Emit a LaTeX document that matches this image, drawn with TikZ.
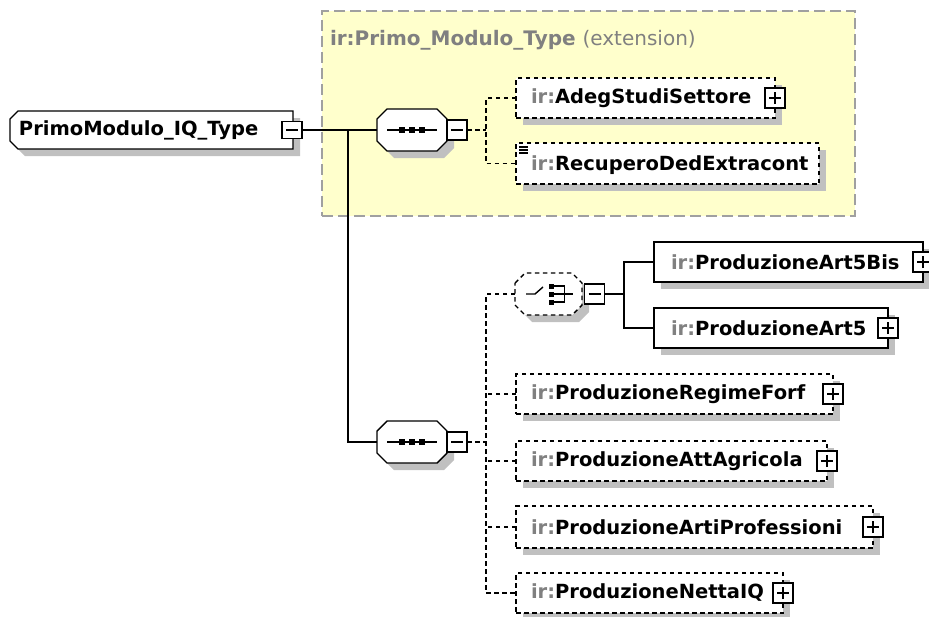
\documentclass[tikz,border=0pt]{standalone}
\usepackage{fontspec}
\setmainfont{DejaVu Sans}
\usetikzlibrary{shadows}
\definecolor{ylw}{RGB}{255,255,204}
\definecolor{shdc}{RGB}{192,192,192}
\definecolor{irgray}{RGB}{128,128,128}
\definecolor{framec}{RGB}{160,160,160}
\newcommand\octpath[4]{([xshift=#2,yshift=#3-#4]#1.north west) -- ([xshift=#2+#4,yshift=#3]#1.north west) -- ([xshift=#2-#4,yshift=#3]#1.north east) -- ([xshift=#2,yshift=#3-#4]#1.north east) -- ([xshift=#2,yshift=#3+#4]#1.south east) -- ([xshift=#2-#4,yshift=#3]#1.south east) -- ([xshift=#2+#4,yshift=#3]#1.south west) -- ([xshift=#2,yshift=#3+#4]#1.south west) -- cycle}
\newcommand\rootpath[4]{([xshift=#2,yshift=#3-#4]#1.north west) -- ([xshift=#2+#4,yshift=#3]#1.north west) -- ([xshift=#2,yshift=#3]#1.north east) -- ([xshift=#2,yshift=#3]#1.south east) -- ([xshift=#2+#4,yshift=#3]#1.south west) -- ([xshift=#2,yshift=#3+#4]#1.south west) -- cycle}
\begin{document}
\begin{tikzpicture}[x=1pt,y=-1pt,
  every node/.style={inner sep=0pt, outer sep=0pt},
  shd/.style={drop shadow={shadow xshift=7pt,shadow yshift=-7pt,fill=shdc,opacity=1}},
  elsolid/.style={draw=black, line width=1.4pt, fill=white, rectangle, minimum height=40pt, shd, anchor=west},
  eldash/.style={elsolid, dash pattern=on 4.5pt off 3.5pt},
  lbl/.style={anchor=west, font=\fontsize{19.5}{23}\selectfont\bfseries},
  btn/.style={draw=black, line width=1.4pt, fill=white, rectangle, minimum width=20pt, minimum height=20pt},
  minusbtn/.style={btn, path picture={\draw[line width=1.4pt] ([xshift=-6pt]path picture bounding box.center) -- ([xshift=6pt]path picture bounding box.center);}},
  plusbtn/.style={btn, path picture={\draw[line width=1.4pt] ([xshift=-6pt]path picture bounding box.center) -- ([xshift=6pt]path picture bounding box.center) ([yshift=-6pt]path picture bounding box.center) -- ([yshift=6pt]path picture bounding box.center);}},
  place/.style={rectangle},
  shapeline/.style={draw=black, line width=1.4pt, fill=white},
  conn/.style={draw=black, line width=1.4pt},
  dconn/.style={conn, dash pattern=on 4.5pt off 3.5pt},
  extframe/.style={draw=framec, fill=ylw, line width=1.6pt, dash pattern=on 11pt off 5pt, rectangle, anchor=north west}
]
\useasboundingbox (0,0) rectangle (929,616);

% extension frame
\node[extframe, minimum width=533pt, minimum height=205pt] (ext) at (322,11) {};
\node[anchor=west, text=irgray, font=\fontsize{20}{23}\selectfont] (title) at (330,40) {\bfseries ir:Primo\_Modulo\_Type \mdseries(extension)};

% root
\node[place, minimum width=283pt, minimum height=38pt, anchor=west] (root) at (10,130) {};
\fill[shdc] \rootpath{root}{7pt}{-7pt}{8pt};
\draw[shapeline] \rootpath{root}{0pt}{0pt}{8pt};
\node[lbl] (roott) at (19,130) {PrimoModulo\_IQ\_Type};
\node[minusbtn, minimum height=17pt] (rootb) at (292,130) {};

% sequence 1
\node[place, minimum width=70pt, minimum height=42pt] (seq1) at (412,130) {};
\fill[shdc] \octpath{seq1}{7pt}{-7pt}{10pt};
\draw[shapeline] \octpath{seq1}{0pt}{0pt}{10pt};
\draw[line width=1.4pt] ([xshift=-25pt]seq1.center) -- ([xshift=25pt]seq1.center);
\foreach \dx in {-10,0,10} \fill ([xshift=\dx pt-3pt,yshift=-3pt]seq1.center) rectangle ++(6pt,6pt);
\node[minusbtn] (seq1b) at (457,130) {};

% sequence 2
\node[place, minimum width=70pt, minimum height=42pt] (seq2) at (412,442) {};
\fill[shdc] \octpath{seq2}{7pt}{-7pt}{10pt};
\draw[shapeline] \octpath{seq2}{0pt}{0pt}{10pt};
\draw[line width=1.4pt] ([xshift=-25pt]seq2.center) -- ([xshift=25pt]seq2.center);
\foreach \dx in {-10,0,10} \fill ([xshift=\dx pt-3pt,yshift=-3pt]seq2.center) rectangle ++(6pt,6pt);
\node[minusbtn] (seq2b) at (457,442) {};

% choice
\node[place, minimum width=67pt, minimum height=42pt] (choice) at (548.5,294) {};
\fill[shdc] \octpath{choice}{7pt}{-7pt}{10pt};
\draw[shapeline, dash pattern=on 4.5pt off 3.5pt] \octpath{choice}{0pt}{0pt}{10pt};
\begin{scope}[shift={(choice.center)}]
  \draw[line width=1.4pt] (-22.5,0) -- (-13.5,0) -- (-5.5,-7);
  \foreach \dy in {-8,0,8} \fill (0,\dy-2.5) rectangle (5,\dy+2.5);
  \draw[line width=1.4pt] (5,-8) -- (16,-8) -- (16,8) -- (5,8) (5,0) -- (24,0);
\end{scope}
\node[minusbtn] (choiceb) at (594.5,294) {};

% elements of sequence 1
\node[eldash, minimum width=259pt] (adeg) at (516,98) {};
\node[lbl] (adegt) at (531,98) {\textcolor{irgray}{ir:}AdegStudiSettore};
\node[plusbtn] (adegb) at (adeg.east) {};

\node[eldash, minimum width=303pt, minimum height=41pt] (recup) at (516,163.5) {};
\node[lbl] (recupt) at (531,165) {\textcolor{irgray}{ir:}RecuperoDedExtracont};
\draw[line width=1.2pt] (519,147) -- (528,147) (519,150) -- (528,150) (519,153) -- (528,153);

% elements of choice
\node[elsolid, minimum width=269pt] (art5bis) at (654,262) {};
\node[lbl] (art5bist) at (671,262) {\textcolor{irgray}{ir:}ProduzioneArt5Bis};
\node[plusbtn] (art5bisb) at (art5bis.east) {};

\node[elsolid, minimum width=234pt] (art5) at (654,328) {};
\node[lbl] (art5t) at (671,328) {\textcolor{irgray}{ir:}ProduzioneArt5};
\node[plusbtn] (art5b) at (art5.east) {};

% elements of sequence 2
\node[eldash, minimum width=317pt] (regime) at (516,394) {};
\node[lbl] (regimet) at (531,394) {\textcolor{irgray}{ir:}ProduzioneRegimeForf};
\node[plusbtn] (regimeb) at (regime.east) {};

\node[eldash, minimum width=311pt] (agri) at (516,461) {};
\node[lbl] (agrit) at (531,461) {\textcolor{irgray}{ir:}ProduzioneAttAgricola};
\node[plusbtn] (agrib) at (agri.east) {};

\node[eldash, minimum width=357pt, minimum height=42pt] (arti) at (516,527) {};
\node[lbl] (artit) at (531,527) {\textcolor{irgray}{ir:}ProduzioneArtiProfessioni};
\node[plusbtn] (artib) at (arti.east) {};

\node[eldash, minimum width=267pt] (netta) at (516,593) {};
\node[lbl] (nettat) at (531,593) {\textcolor{irgray}{ir:}ProduzioneNettaIQ};
\node[plusbtn] (nettab) at (netta.east) {};

% connectors
\coordinate (j1) at (348,130);
\coordinate (v1) at (486,130);
\coordinate (v2) at (486,442);
\coordinate (v3) at (624,294);
\draw[conn] (rootb.east) -- (j1) -- (seq1.west);
\draw[conn] (j1) |- (seq2.west);
\draw[dconn] (seq1b.east) -- (v1);
\draw[dconn] (adeg.west) -| (v1) |- (recup.west);
\draw[dconn] (seq2b.east) -- (v2);
\draw[dconn] (choice.west) -| (v2) |- (netta.west);
\draw[dconn] (regime.west) -- (regime.west -| v2);
\draw[dconn] (agri.west) -- (agri.west -| v2);
\draw[dconn] (arti.west) -- (arti.west -| v2);
\draw[conn] (choiceb.east) -- (v3);
\draw[conn] (art5bis.west) -| (v3) |- (art5.west);
\end{tikzpicture}
\end{document}
